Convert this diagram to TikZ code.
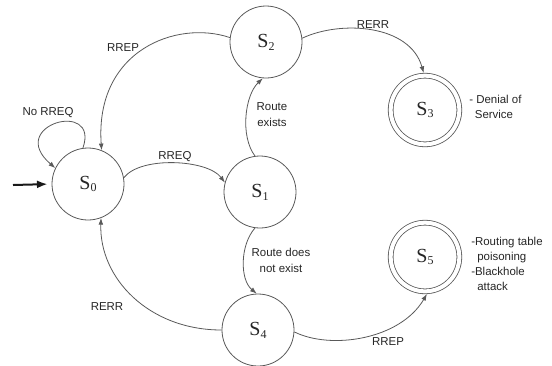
\documentclass[tikz,border=0pt]{standalone}
\usepackage{fontspec}
\setmainfont{Liberation Serif}
\setsansfont{Liberation Sans}
\newfontfamily\statefont{Liberation Serif}
\usetikzlibrary{arrows.meta}

\newcommand{\stname}[1]{{\statefont\fontsize{15}{15}\selectfont S\raisebox{-0.3ex}{\fontsize{9}{9}\selectfont #1}}}

\tikzset{
  state/.style={circle, draw=black!65, line width=0.6pt, minimum size=54pt, inner sep=0pt, text=black!85},
  final/.style={state, double, double distance=3pt, minimum size=51.5pt, outer sep=2pt},
  trans/.style={draw=black!65, line width=0.6pt, -{Latex[length=5pt,width=3.6pt]}},
  initarrow/.style={draw=black!90, line width=1.5pt, -{Latex[length=8pt,width=6pt]}, shorten >=3pt},
  lbl/.style={font=\sffamily\fontsize{8.6}{12}\selectfont, inner sep=0pt, text=black!85, align=center},
  note/.style={font=\sffamily\fontsize{8.6}{11.4}\selectfont, inner sep=0pt, text=black!85, align=left, anchor=west}
}

\begin{document}
\begin{tikzpicture}[x=0.75pt,y=0.75pt,yscale=-1,xscale=1]
\useasboundingbox (0,0) rectangle (552,365);

%Shape: Circle [states]
\node (s0) at (88,184) [state] {\stname{0}};
\node (s1) at (260,192) [state] {\stname{1}};
\node (s2) at (266,42) [state] {\stname{2}};
\node (s3) at (425,110) [final] {\stname{3}};
\node (s4) at (258,330) [state] {\stname{4}};
\node (s5) at (425,257) [final] {\stname{5}};
\coordinate (init) at (13,185);

%Straight Lines [start]
\draw [initarrow] (init) -- (s0.west);

%Curve Lines
\draw [trans] (s0.98) .. controls +(17,-49) and +(-50,-43) .. (s0.154);
\draw [trans] (s0.10) .. controls +(17,-22) and +(-17,-23) .. (s1.165);
\draw [trans] (s2.173) .. controls +(-53,-18) and +(-7,-100) .. (s0.68);
\draw [trans] (s1.98) .. controls +(-15,-20) and +(-18,17) .. (s2.265);
\draw [trans] (s1.262) .. controls +(-15,17) and +(-17,-14) .. (s4.92);
\draw [trans] (s4.180) .. controls +(-73,0) and +(-2,60) .. (s0.291);
\draw [trans] (s2.6) .. controls +(38,-18) and +(-14,-49) .. (s3.92);
\draw [trans] (s4.357) .. controls +(36,18) and +(-27,46) .. (s5.273);

% Text Node
\node (lnoreq) at (48,113) [lbl] {No RREQ};
% Text Node
\node (lrreq) at (175,157) [lbl] {RREQ};
% Text Node
\node (lrrep) at (123,48) [lbl] {RREP};
% Text Node
\node (lexists) at (272,115) [lbl] {Route\\exists};
% Text Node
\node (lrerrtop) at (373,25) [lbl] {RERR};
% Text Node
\node (lnotexist) at (281,260) [lbl] {Route does\\not exist};
% Text Node
\node (lrerrbot) at (107,307) [lbl] {RERR};
% Text Node
\node (lrrepbot) at (388,342) [lbl] {RREP};
% Text Node
\node (ldos) at (469,107) [note] {- Denial of\\\hspace{4.2pt}Service};
% Text Node
\node (lpoison) at (471,264) [note] {-Routing table\\\hspace{4.5pt}poisoning\\-Blackhole\\\hspace{4.5pt}attack};

\end{tikzpicture}
\end{document}
